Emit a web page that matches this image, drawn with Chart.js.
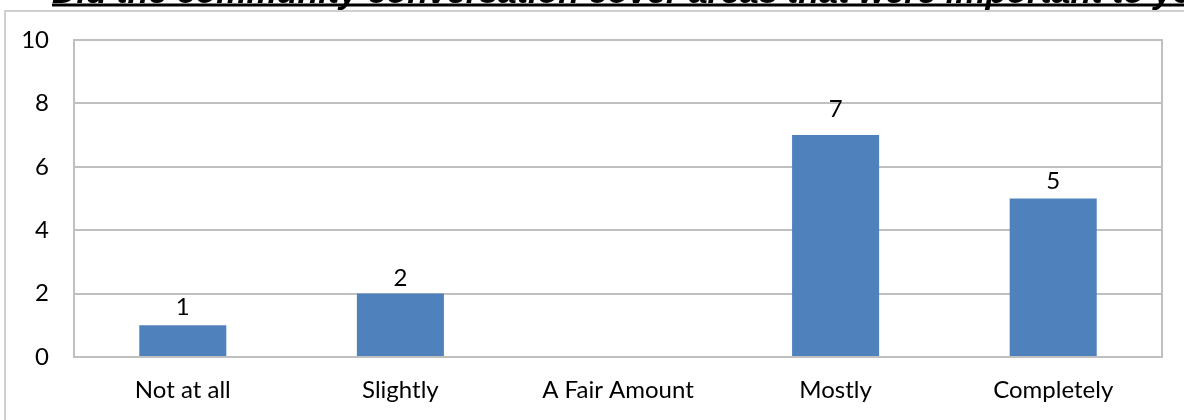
<!DOCTYPE html>
<html>
<head>
<meta charset="utf-8">
<script src="https://cdn.jsdelivr.net/npm/chart.js@4"></script>
<style>
  html, body { margin: 0; padding: 0; background: #fff; }
  #wrap { width: 1184px; height: 420px; position: relative; }
</style>
</head>
<body>
<div id="wrap"><canvas id="c" width="1184" height="420"></canvas></div>
<script>
const titleText = "Did the community conversation cover areas that were important to you?";
const categories = ["Not at all", "Slightly", "A Fair Amount", "Mostly", "Completely"];
const counts = [1, 2, 0, 7, 5];
const yTicks = [0, 2, 4, 6, 8, 10];

const FONT = "Lato, 'Open Sans', sans-serif";

const decor = {
  id: 'decor',
  beforeDraw(chart) {
    const ctx = chart.ctx;
    ctx.save();
    ctx.fillStyle = '#fff';
    ctx.fillRect(0, 0, chart.width, chart.height);
    // outer chart border
    ctx.strokeStyle = '#d0d0d0';
    ctx.lineWidth = 2;
    ctx.strokeRect(5, 11, 1400, 600);
    // title (cut off at top)
    ctx.font = "italic bold 34px 'Liberation Sans', Arial, sans-serif";
    ctx.fillStyle = '#000';
    ctx.textBaseline = 'alphabetic';
    ctx.textAlign = 'left';
    const tx = 52, ty = 3;
    ctx.fillText(titleText, tx, ty);
    const w = ctx.measureText(titleText).width;
    ctx.fillRect(tx, 3.5, w, 3);
    ctx.restore();
  },
  afterDraw(chart, args, opts) {
    const ctx = chart.ctx;
    const a = chart.chartArea;
    ctx.save();
    ctx.strokeStyle = '#c0c0c0';
    ctx.lineWidth = 2;
    ctx.strokeRect(a.left, a.top, a.right - a.left, a.bottom - a.top);
    // data labels
    ctx.font = "24px " + FONT;
    ctx.fillStyle = '#000';
    ctx.textAlign = 'center';
    ctx.textBaseline = 'alphabetic';
    const meta = chart.getDatasetMeta(0);
    meta.data.forEach((bar, i) => {
      const v = chart.data.datasets[0].data[i];
      if (!v) return;
      const off = (opts.gaps && opts.gaps[i] != null) ? opts.gaps[i] : 9;
      ctx.fillText(String(v), bar.x, bar.y - off);
    });
    ctx.restore();
  }
};

new Chart(document.getElementById('c'), {
  type: 'bar',
  data: {
    labels: categories,
    datasets: [{
      data: counts,
      backgroundColor: '#4f81bd',
      borderWidth: 0,
      barPercentage: 0.4,
      categoryPercentage: 1.0
    }]
  },
  options: {
    responsive: false,
    animation: false,
    devicePixelRatio: 1,
    layout: { padding: { top: 40, right: 22, left: 0, bottom: 0 } },
    plugins: {
      legend: { display: false }, tooltip: { enabled: false }, title: { display: false },
      decor: { gaps: [10, 8, 9, 18, 10] }
    },
    scales: {
      x: {
        grid: { display: false, drawTicks: false },
        border: { display: false },
        ticks: { color: '#000', font: { family: FONT, size: 24 }, padding: 19, maxRotation: 0 },
        afterFit(scale) { scale.height = 63; }
      },
      y: {
        min: 0, max: 10,
        afterBuildTicks(scale) { scale.ticks = yTicks.map(v => ({ value: v })); },
        grid: { color: '#c0c0c0', lineWidth: 2, drawTicks: false },
        border: { display: false },
        ticks: { color: '#000', font: { family: FONT, size: 24 }, padding: 25 },
        afterFit(scale) { scale.width = 74; }
      }
    }
  },
  plugins: [decor]
});
</script>
</body>
</html>
